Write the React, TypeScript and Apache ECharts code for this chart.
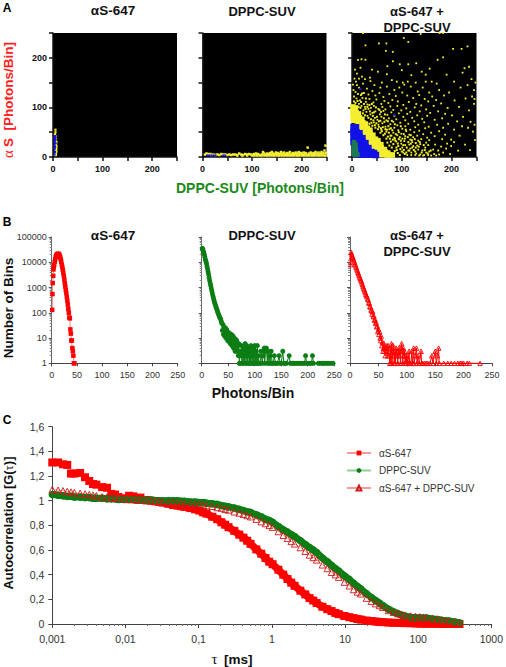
import React, { useEffect, useRef } from "react";
import * as echarts from "echarts";

const FONT = "'Liberation Sans', Arial, sans-serif";
const SERIF = "'Liberation Serif', 'Times New Roman', serif";

// ---- Panel A: photon-burst scatter plots ----
const a1Yellow = [[5,55],[5,50],[4,46],[6,42],[6,38],[5,34],[7,30],[6,26],[7,22],[6,20],[7,17],[6,14],[7,11],[6,8],[5,6],[4,4],[6,4]];
const a1Blue = [[3,42],[5,42],[3,38],[5,38],[4,34],[3,30],[5,28],[3,24],[4,20],[3,16],[4,10],[3,5]];
const a2Yellow = [[5,5],[8,7],[12,6],[16,6],[18,4],[22,5],[26,4],[30,5],[34,4],[38,6],[42,5],[46,5],[50,4],[54,5],[58,4],[62,5],[66,5],[70,4],[74,7],[78,5],[82,4],[86,6],[90,5],[94,6],[98,5],[102,4],[104,6],[108,7],[112,6],[116,4],[120,5],[122,10],[124,7],[126,5],[130,7],[132,4],[134,6],[136,8],[138,5],[140,10],[142,7],[144,4],[146,6],[148,9],[150,6],[152,8],[154,4],[156,6],[158,10],[160,5],[162,7],[164,9],[166,4],[168,6],[170,8],[172,5],[174,7],[176,10],[178,4],[180,6],[182,8],[184,5],[186,7],[188,9],[190,4],[192,7],[194,10],[196,5],[198,8],[200,7],[202,4],[204,9],[206,6],[208,8],[210,4],[212,19],[214,7],[216,5],[218,9],[220,7],[222,4],[224,8],[226,6],[228,10],[230,5],[232,7],[234,9],[236,4],[238,7],[240,10],[242,5],[244,8],[246,13],[248,23],[249,8],[100,3],[110,3],[120,3],[130,3],[140,3],[150,3],[160,3],[170,3],[180,3],[190,3],[200,3],[210,3],[220,3],[230,3],[240,3],[248,3],[70,3],[80,3],[90,3],[105,3],[115,3],[125,3],[135,3],[145,3],[155,3],[165,3],[175,3],[185,3],[195,3],[205,3],[215,3],[225,3],[235,3],[245,3]];
const a2Blue = [[10,3],[14,3],[18,3],[22,3],[26,3],[42,3],[46,3]];

const a3Sparse = [[22,250],[138,248],[176,250],[183,250],[27,225],[54,229],[69,229],[104,240],[113,232],[68,214],[82,212],[203,218],[220,218],[232,223],[12,196],[19,197],[27,196],[82,193],[96,187],[113,187],[129,189],[71,183],[183,201],[226,179],[235,182],[172,196],[6,176],[10,168],[17,180],[40,176],[52,172],[70,167],[100,175],[119,165],[140,172],[156,178],[148,166],[190,166],[222,170],[5,158],[8,152],[14,158],[20,162],[26,157],[36,160],[37,153],[60,150],[80,155],[90,152],[102,150],[112,152],[128,150],[148,152],[160,152],[170,148],[205,152],[240,157],[248,150],[2,146],[10,145],[14,140],[22,148],[30,138],[45,145],[57,140],[70,142],[85,135],[95,140],[105,146],[118,142],[132,132],[142,140],[155,130],[175,135],[195,130],[218,140],[232,145],[245,135],[3,135],[7,131],[12,127],[18,125],[24,129],[33,126],[41,133],[47,124],[55,129],[63,121],[75,127],[88,123],[101,130],[111,124],[123,119],[135,125],[146,117],[161,122],[169,115],[185,124],[206,114],[228,118],[241,122],[246,117],[4,122],[9,118],[16,114],[21,119],[28,111],[35,117],[43,110],[49,116],[59,107],[65,113],[73,109],[81,115],[92,112],[103,105],[114,111],[129,107],[139,104],[153,112],[164,103],[179,108],[192,99],[215,101],[235,94],[245,107],[14,107],[19,103],[26,101],[31,106],[38,99],[44,103],[53,97],[61,101],[67,96],[77,102],[83,95],[91,103],[99,94],[109,98],[117,91],[126,100],[136,92],[149,96],[157,89],[173,92],[187,87],[201,84],[223,81],[238,71],[246,65],[23,94],[29,91],[33,97],[41,89],[47,92],[56,86],[63,93],[71,85],[79,90],[85,83],[94,88],[103,81],[111,87],[121,79],[131,84],[141,77],[151,83],[166,75],[181,78],[193,67],[211,72],[233,59],[31,83],[37,86],[46,79],[51,75],[59,81],[69,74],[74,78],[83,71],[89,76],[97,69],[107,74],[113,67],[125,72],[133,65],[145,70],[154,61],[171,65],[183,59],[205,55],[221,62],[243,51],[247,34],[44,70],[53,65],[61,68],[67,61],[77,66],[85,59],[91,64],[101,57],[107,62],[117,55],[127,60],[135,53],[147,58],[159,49],[175,52],[187,45],[199,35],[216,43],[237,14],[59,55],[69,51],[75,56],[83,49],[93,54],[99,47],[109,52],[115,45],[125,50],[131,43],[143,46],[151,39],[166,42],[181,36],[191,27],[205,30],[227,25],[77,43],[85,39],[91,44],[101,37],[107,42],[117,35],[123,40],[133,33],[139,36],[149,29],[155,34],[167,25],[179,21],[189,17],[199,22],[213,13],[89,31],[99,27],[105,32],[115,25],[121,30],[131,23],[137,26],[147,19],[153,24],[163,15],[173,13],[183,9],[197,6],[101,19],[107,24],[117,17],[123,22],[133,15],[141,13],[149,9],[155,11],[165,6],[175,5],[103,9],[113,13],[119,9],[129,7],[137,5],[145,4],[153,4],[111,4],[119,4],[127,4],[135,3],[143,3],[159,3],[169,3]];
const a3Cloud = [[4,112],[7,109],[11,113],[17,99],[22,88],[27,97],[13,101],[33,79],[38,76],[26,84],[29,70],[35,67],[41,63],[47,59],[54,61],[43,74],[49,68],[57,49],[63,44],[69,37],[58,58],[66,47],[72,41],[78,31],[83,26],[87,33],[93,22],[97,16],[80,19],[86,12],[92,8],[96,4],[104,14],[110,19],[118,27],[124,14],[128,19],[113,30],[106,37],[96,40],[88,46],[81,54],[73,62],[65,71],[57,73],[50,81],[42,83],[36,92],[31,101],[24,107],[18,111],[39,69],[46,64],[52,56],[60,52],[67,56],[74,49],[79,43],[86,37],[92,27],[98,33],[103,24],[109,9],[115,13],[121,19],[127,11],[134,21],[140,9],[146,14],[152,7],[158,13],[76,37],[71,29],[82,35],[89,19],[94,36],[100,11],[106,6],[75,23],[84,7],[90,14],[44,90],[55,95],[35,105],[72,72],[64,78],[54,72],[62,60],[70,55],[78,58],[94,50],[104,46],[112,40],[120,34],[128,28],[136,30],[144,24],[126,36],[118,44],[108,55],[98,62],[86,66],[80,73],[66,86],[58,91],[48,100],[40,107],[28,118],[20,128]];
const a3Dense = [[2,101],[7,99],[2,92],[8,90],[13,87],[2,83],[9,82],[15,79],[20,76],[3,74],[10,73],[16,71],[22,69],[27,66],[13,64],[20,62],[26,60],[31,58],[36,54],[17,54],[24,52],[30,50],[36,48],[42,44],[22,44],[28,42],[35,41],[41,38],[47,36],[52,33],[27,34],[34,33],[40,31],[46,29],[52,27],[58,25],[35,24],[41,23],[47,22],[53,20],[59,18],[65,15],[43,14],[49,13],[55,12],[61,11],[67,10],[72,8],[52,6],[58,5],[64,5],[70,4],[76,4],[81,4]];
const a3Blue = [[3,60],[8,60],[3,50],[9,50],[15,48],[3,40],[9,40],[15,40],[21,38],[3,30],[9,30],[15,30],[21,30],[27,28],[9,20],[15,20],[21,20],[27,20],[33,18],[15,10],[21,10],[27,10],[33,10],[39,10],[44,8],[12,5],[20,5],[28,5],[36,5],[44,5],[48,4]];
const a3Specks = [[17,137],[85,85]];
const a3Green = [[4,30],[4,26],[7,25],[4,20],[7,20],[4,15],[8,15],[4,10],[8,10],[4,5],[8,5],[11,5]];

// ---- Panel B: photon-count histograms ----
const b1Hist = [[1,130],[1.5,550],[2,1500],[3,2900],[3.5,5200],[4,6500],[5,8000],[6,10500],[7,13000],[8,16000],[9,18500],[10,20000],[11,21000],[12,21500],[13,21500],[14,21000],[15,20000],[16,18000],[17,15500],[18,13000],[19,10500],[20,8000],[21,6500],[22,5000],[23,3800],[24,2900],[25,2100],[26,1500],[27,1100],[28,800],[29,600],[30,420],[31,300],[32,210],[33,140],[34,100],[35,65],[36,60],[37,22],[38,15],[39,8],[40,8],[41,4],[42,3],[43,2],[44,1],[45,1]];
const b2Hist = [[1,35000],[2,34000],[3,28000],[4,24000],[5,20000],[6,16000],[7,13000],[8,11000],[9,9000],[10,7000],[11,5500],[12,4200],[13,3300],[14,2500],[15,1900],[16,1500],[17,1200],[18,950],[19,750],[20,600],[21,480],[22,400],[23,320],[24,270],[25,230],[26,200],[27,170],[28,150],[29,130],[30,110],[31,95],[32,85],[33,75],[34,65],[35,60],[36,55],[37,45],[38,38],[39,20],[40,35],[41,14],[42,28],[43,12],[44,18],[45,25],[46,10],[47,22],[48,14],[49,8],[50,17],[51,12],[52,7],[53,15],[54,6],[55,11],[56,14],[57,5],[58,9],[59,12],[60,4],[61,10],[62,6],[63,3],[64,9],[65,4],[66,8],[67,3],[68,5],[69,2],[70,6],[71,1],[72,1],[73,3],[74,2],[75,5],[76,1],[77,3],[78,1],[79,2],[80,4],[81,1],[82,6],[83,2],[84,1],[85,5],[86,3],[87,1],[88,2],[89,4],[90,1],[91,3],[92,1],[93,5],[94,2],[95,1],[96,3],[97,1],[98,4],[99,1],[100,5],[101,2],[102,1],[103,3],[104,1],[105,5],[106,1],[107,2],[108,1],[110,1],[112,3],[114,1],[116,2],[118,4],[119,1],[120,3],[122,4],[124,1],[125,3],[127,1],[128,2],[130,1],[131,3],[133,1],[135,1],[137,2],[139,1],[141,1],[143,1],[146,2],[148,1],[150,1],[153,3],[155,1],[157,1],[160,1],[165,2],[167,1],[170,1],[173,1],[176,1],[179,1],[182,1],[185,1],[188,1],[191,1],[194,1],[196,2],[198,1],[201,1],[204,1],[207,1],[209,2],[211,1],[220,1],[223,1],[227,1],[230,1],[233,1],[237,1],[240,1],[244,1],[248,1]];
const b3Hist = [[1,8000],[1.5,14000],[2,25000],[3,21000],[4,18000],[5,15500],[6,13500],[7,11500],[8,10000],[9,8500],[10,7200],[11,6200],[12,5400],[13,4700],[14,4000],[15,3500],[16,3000],[17,2600],[18,2300],[19,2000],[20,1800],[21,1500],[22,1300],[23,1100],[24,950],[25,830],[26,720],[27,630],[28,540],[29,480],[30,430],[31,350],[32,330],[33,260],[34,240],[35,180],[36,170],[37,130],[38,120],[39,90],[40,110],[41,70],[42,75],[43,50],[44,55],[45,38],[46,42],[47,28],[48,30],[49,18],[50,22],[51,14],[52,18],[53,10],[54,8],[55,12],[56,5],[57,7],[58,3],[59,4],[60,6],[61,3],[62,2],[63,4],[64,3],[65,5],[66,2],[67,5],[68,3],[69,2],[70,1],[71,4],[72,1],[73,6],[74,1],[75,3],[76,5],[77,2],[78,1],[79,3],[80,1],[81,4],[82,2],[83,3],[84,1],[85,2],[86,4],[87,2],[88,3],[89,1],[90,4],[91,6],[92,3],[93,1],[94,4],[95,2],[96,3],[97,1],[98,2],[99,1],[100,2],[102,1],[104,3],[105,1],[107,1],[109,3],[110,1],[112,4],[113,1],[115,2],[117,4],[118,1],[120,2],[122,1],[125,3],[126,1],[128,1],[131,1],[134,1],[137,1],[141,1],[144,2],[146,1],[150,3],[152,1],[154,2],[156,4],[157,1],[165,1],[172,1],[178,1],[184,1],[190,1],[194,1],[197,1],[200,1],[206,1],[210,1],[229,1]];

// ---- Panel C: autocorrelation curves ----
const tau = [0.001,0.0012,0.0014,0.0016,0.0018,0.002,0.0024,0.0028,0.0032,0.0036,0.004,0.0048,0.0056,0.0064,0.0072,0.008,0.0096,0.0112,0.0128,0.0144,0.016,0.0192,0.0224,0.0256,0.0288,0.032,0.0384,0.0448,0.0512,0.0576,0.064,0.0768,0.0896,0.1024,0.1152,0.128,0.1536,0.1792,0.2048,0.2304,0.256,0.3072,0.3584,0.4096,0.4608,0.512,0.6144,0.7168,0.8192,0.9216,1.024,1.229,1.434,1.638,1.843,2.048,2.458,2.867,3.277,3.686,4.096,4.915,5.734,6.554,7.373,8.192,9.83,11.47,13.11,14.75,16.38,19.66,22.94,26.21,29.49,32.77,39.32,45.88,52.43,58.98,65.54,78.64,91.75,104.9,118,131.1,157.3,183.5,209.7,235.9,262.1,314.6,367];
const gRed = [1.31,1.31,1.295,1.29,1.22,1.22,1.225,1.19,1.16,1.135,1.13,1.11,1.105,1.055,1.05,1.03,1.02,1.04,1.035,1.02,1.025,1.005,1.0,0.995,0.99,0.985,0.975,0.965,0.96,0.955,0.95,0.94,0.93,0.92,0.905,0.895,0.87,0.85,0.825,0.805,0.785,0.755,0.725,0.7,0.675,0.65,0.605,0.57,0.535,0.505,0.485,0.44,0.4,0.365,0.335,0.31,0.27,0.24,0.21,0.19,0.17,0.14,0.12,0.105,0.09,0.08,0.065,0.055,0.048,0.04,0.036,0.028,0.024,0.02,0.017,0.015,0.012,0.01,0.009,0.008,0.007,0.006,0.005,0.004,0.003,0.003,0.002,0.002,0.001,0.001,0.001,0,0];
const gGreen = [1.05,1.045,1.04,1.035,1.035,1.03,1.03,1.025,1.025,1.02,1.02,1.02,1.015,1.015,1.015,1.01,1.01,1.01,1.01,1.005,1.005,1.005,1.005,1.0,1.0,1.0,1.0,1.0,1.0,0.995,0.995,0.99,0.99,0.985,0.985,0.98,0.975,0.97,0.96,0.955,0.95,0.94,0.93,0.92,0.91,0.905,0.885,0.87,0.85,0.84,0.825,0.79,0.765,0.745,0.725,0.71,0.675,0.645,0.62,0.6,0.58,0.535,0.505,0.475,0.45,0.43,0.39,0.36,0.33,0.305,0.285,0.245,0.215,0.19,0.17,0.15,0.12,0.1,0.085,0.072,0.065,0.055,0.05,0.05,0.048,0.048,0.04,0.036,0.03,0.026,0.024,0.016,0.01];
const gTri = [1.09,1.085,1.08,1.075,1.07,1.065,1.06,1.055,1.05,1.045,1.04,1.03,1.03,1.025,1.02,1.02,1.015,1.01,1.01,1.005,1.005,1.0,1.0,0.995,0.995,0.99,0.985,0.985,0.98,0.98,0.975,0.975,0.97,0.97,0.965,0.96,0.955,0.945,0.94,0.93,0.925,0.91,0.9,0.89,0.88,0.87,0.85,0.83,0.815,0.8,0.785,0.75,0.72,0.695,0.67,0.65,0.62,0.59,0.56,0.54,0.52,0.48,0.45,0.42,0.4,0.38,0.34,0.31,0.28,0.26,0.245,0.21,0.185,0.165,0.15,0.135,0.11,0.095,0.085,0.078,0.072,0.065,0.062,0.058,0.055,0.052,0.045,0.04,0.032,0.028,0.024,0.016,0.01];

const seriesNames = ["αS-647", "DPPC-SUV", "αS-647 + DPPC-SUV"];
const panelTitles = ["αS-647", "DPPC-SUV", "αS-647 +\nDPPC-SUV"];
const cYTicks: Record<string, string> = { "0": "0", "0.2": "0,2", "0.4": "0,4", "0.6": "0,6", "0.8": "0,8", "1": "1", "1.2": "1,2", "1.4": "1,4", "1.6": "1,6" };
const cXTicks = [0.001, 0.01, 0.1, 1, 10, 100, 1000];
const cXLabels = ["0,001", "0,01", "0,1", "1", "10", "100", "1000"];

const YELLOW = "#f4ee30";
const BLUE = "#1212e6";
const GREEN = "#0c7d14";
const RED = "#ff0000";
const INK = "#333333";

function aX(grid: number) {
  return {
    type: "value", gridIndex: grid, min: 0, max: 250, interval: 50, splitLine: { show: false },
    axisLine: { onZero: false, lineStyle: { color: "#111", width: 1.5 } },
    axisTick: { length: 4, lineStyle: { color: "#111", width: 1.5 } },
    axisLabel: { margin: 7, fontFamily: FONT, fontSize: 9, fontWeight: "bold", color: "#111", formatter: (v: number) => (v % 100 === 0 ? String(v) : "") },
  };
}
function aY(grid: number, labels: boolean) {
  return {
    type: "value", gridIndex: grid, min: 0, max: 250, interval: 50, splitLine: { show: false },
    axisLine: { onZero: false, lineStyle: { color: "#111", width: 1.5 } },
    axisTick: { length: 4, lineStyle: { color: "#111", width: 1.5 } },
    axisLabel: { show: labels, margin: 6, fontFamily: FONT, fontSize: 9, fontWeight: "bold", color: "#111", formatter: (v: number) => (v % 100 === 0 ? String(v) : "") },
  };
}
function bX(grid: number) {
  return {
    type: "value", gridIndex: grid, min: 0, max: 250, interval: 50, splitLine: { show: false },
    axisLine: { onZero: false, lineStyle: { color: "#444", width: 1 } },
    axisTick: { length: 3, lineStyle: { color: "#444" } },
    axisLabel: { margin: 7, fontFamily: FONT, fontSize: 9, color: INK },
  };
}
function bY(grid: number, labels: boolean) {
  return {
    type: "log", logBase: 10, gridIndex: grid, min: 1, max: 100000, splitLine: { show: false },
    axisLine: { onZero: false, lineStyle: { color: "#666", width: 1 } },
    axisTick: { length: 3, lineStyle: { color: "#555" } },
    minorTick: { show: true, splitNumber: 9, length: 2, lineStyle: { color: "#888" } },
    axisLabel: { show: labels, margin: 5, fontFamily: FONT, fontSize: 9, color: INK, formatter: (v: number) => String(Math.round(v)) },
  };
}
function dots(x: number, data: number[][], color: string, size: number, symbol = "rect") {
  return { type: "scatter", xAxisIndex: x, yAxisIndex: x, data, symbol, symbolSize: size, itemStyle: { color, opacity: 1 }, silent: true };
}
function hist(x: number, name: string, data: number[][], color: string, lineColor: string, symbol: string, size: number, hollow = false) {
  return {
    type: "line", name, xAxisIndex: x, yAxisIndex: x, data, symbol, symbolSize: size, showSymbol: true, showAllSymbol: true,
    clip: false, lineStyle: { color: lineColor, width: 1 },
    itemStyle: hollow ? { color: "rgba(255,255,255,0)", borderColor: color, borderWidth: 0.9 } : { color },
  };
}
function band(name: string, data: number[][], color: string, width: number) {
  return { type: "line", name, xAxisIndex: 6, yAxisIndex: 6, data, symbol: "none", clip: false, lineStyle: { color, width, cap: "butt", join: "round" } };
}
function label(text: string, x: number, y: number, size: number, color = "#111", rotation = 0, weight = "bold") {
  return { type: "text", x, y, rotation, style: { text, x: 0, y: 0, align: "center", verticalAlign: "middle", font: `${weight} ${size}px ${FONT}`, fill: color, lineHeight: 16 } };
}

export default function App() {
  const ref = useRef<HTMLDivElement>(null);
  useEffect(() => {
    const chart = echarts.init(ref.current!, undefined, { renderer: "svg" });
    const zip = (ys: number[]) => tau.map((t, i) => [t, ys[i]]);
    chart.setOption({
      animation: false,
      backgroundColor: "#fff",
      grid: [
        { left: 53, top: 33, width: 124, height: 124, show: true, backgroundColor: "#000", borderWidth: 0 },
        { left: 202.5, top: 33, width: 124, height: 124, show: true, backgroundColor: "#000", borderWidth: 0 },
        { left: 352, top: 33, width: 124.5, height: 124, show: true, backgroundColor: "#000", borderWidth: 0 },
        { left: 51.7, top: 237, width: 126, height: 126.3 },
        { left: 201.7, top: 237, width: 132.5, height: 126.3 },
        { left: 350, top: 237, width: 142, height: 126.3 },
        { left: 52.3, top: 426.7, width: 440.4, height: 197.3 },
      ],
      xAxis: [
        aX(0), aX(1), aX(2), bX(3), bX(4), bX(5),
        {
          type: "log", logBase: 10, gridIndex: 6, min: 0.001, max: 1000, splitLine: { show: false },
          axisLine: { onZero: false, lineStyle: { color: "#444" } },
          axisTick: { length: 4, lineStyle: { color: "#444" } },
          minorTick: { show: true, splitNumber: 9, length: 2, lineStyle: { color: "#666" } },
          axisLabel: {
            margin: 9, fontFamily: FONT, fontSize: 10.5, color: INK,
            formatter: (v: number) => {
              const i = cXTicks.findIndex((t) => Math.abs(Math.log10(t) - Math.log10(v)) < 0.01);
              return i >= 0 ? cXLabels[i] : "";
            },
          },
        },
      ],
      yAxis: [
        aY(0, true), aY(1, false), aY(2, false), bY(3, true), bY(4, false), bY(5, false),
        {
          type: "value", gridIndex: 6, min: 0, max: 1.6, interval: 0.2, splitLine: { show: false },
          axisLine: { onZero: false, lineStyle: { color: "#444" } },
          axisTick: { length: 4, lineStyle: { color: "#444" } },
          axisLabel: { margin: 8, fontFamily: FONT, fontSize: 10.5, color: INK, formatter: (v: number) => cYTicks[String(Number(v.toFixed(1)))] ?? "" },
        },
      ],
      legend: {
        data: seriesNames, orient: "vertical", left: 341, top: 443, itemWidth: 24, itemHeight: 6, itemGap: 7.5,
        selectedMode: false, textStyle: { fontFamily: FONT, fontSize: 10, color: INK, padding: [0, 0, 0, 3] },
      },
      series: [
        dots(0, a1Yellow, YELLOW, 2.2), dots(0, a1Blue, BLUE, 2.2),
        dots(1, a2Yellow, YELLOW, 2.5), dots(1, a2Blue, BLUE, 2),
        dots(2, a3Sparse, YELLOW, 1.8), dots(2, a3Cloud, YELLOW, 2), dots(2, a3Dense, YELLOW, 5.5), dots(2, a3Blue, BLUE, 6.5), dots(2, a3Specks, BLUE, 2), dots(2, a3Green, "#1c7a52", 4.5),
        hist(3, "αS-647 histogram", b1Hist, RED, "#ff8080", "rect", 4.5),
        hist(4, "DPPC-SUV histogram", b2Hist, GREEN, GREEN, "circle", 5),
        hist(5, "αS-647 + DPPC-SUV histogram", b3Hist, RED, RED, "triangle", 4.5, true),
        band("αS-647 band", zip(gRed).slice(21), RED, 7.5),
        hist(6, seriesNames[0], zip(gRed), RED, "#ff9999", "rect", 8),
        band("DPPC-SUV band", zip(gGreen), GREEN, 7),
        hist(6, seriesNames[1], zip(gGreen), GREEN, "#8fd08f", "circle", 7.5),
        hist(6, seriesNames[2], zip(gTri), "#cc1a1a", "#ff9999", "triangle", 6.5, true),
      ],
      graphic: [
        label("A", 7, 8, 12, "#000"), label("B", 7, 222, 12, "#000"), label("C", 7, 420, 12, "#000"),
        label(panelTitles[0], 113, 10.5, 13.5), label(panelTitles[1], 262, 11, 13), label(panelTitles[2], 417, 19, 13),
        label(panelTitles[0], 113, 235, 13.5), label(panelTitles[1], 262, 235, 13), label(panelTitles[2], 417, 243, 13),
        label("DPPC-SUV [Photons/Bin]", 260, 188, 14, "#1b8a1b"),
        {
          type: "text", x: 8, y: 100, rotation: Math.PI / 2,
          style: {
            text: "{a|α} {b|S  [Photons/Bin]}", x: 0, y: 0, align: "center", verticalAlign: "middle",
            rich: {
              a: { font: `15px ${SERIF}`, fill: "#ff2020", color: "#ff2020" },
              b: { font: `bold 13.5px ${FONT}`, fill: "#ff2020", color: "#ff2020" },
            },
          },
        },
        label("Number of Bins", 8, 308, 13.5, "#111", Math.PI / 2),
        label("Photons/Bin", 253, 393, 14),
        {
          type: "text", x: 8, y: 523, rotation: Math.PI / 2,
          style: {
            text: "{b|Autocorrelation [G(}{a|τ}{b|)]}", x: 0, y: 0, align: "center", verticalAlign: "middle",
            rich: {
              a: { font: `13px ${SERIF}`, fill: "#111", color: "#111" },
              b: { font: `bold 13px ${FONT}`, fill: "#111", color: "#111" },
            },
          },
        },
        {
          type: "text", x: 232, y: 659,
          style: {
            text: "{a|τ}  {b|[ms]}", x: 0, y: 0, align: "center", verticalAlign: "middle",
            rich: {
              a: { font: `15px ${SERIF}`, fill: "#111", color: "#111" },
              b: { font: `bold 13.5px ${FONT}`, fill: "#111", color: "#111" },
            },
          },
        },
      ],
    });
    return () => chart.dispose();
  }, []);
  return <div ref={ref} style={{ position: "fixed", left: 0, top: 0, width: 506, height: 667 }} />;
}
